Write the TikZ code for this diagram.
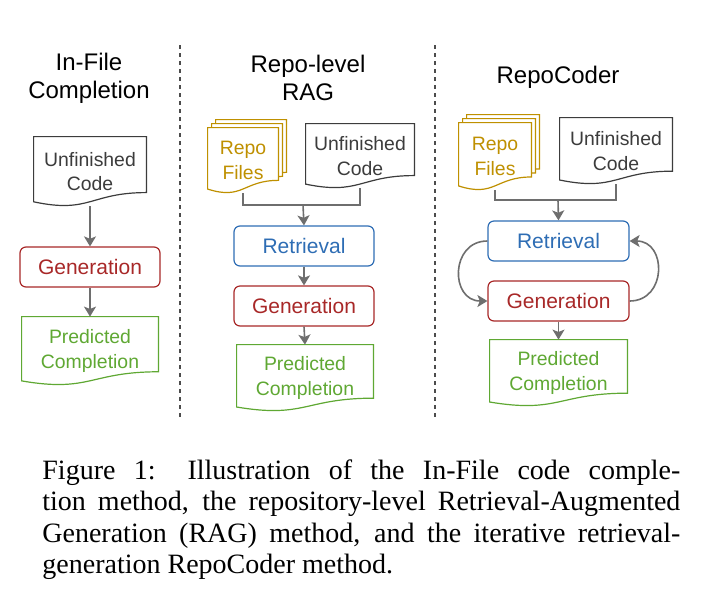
\documentclass[tikz,border=0pt]{standalone}
\usepackage{fontspec}
\setmainfont{Liberation Serif}
\setsansfont{Liberation Sans}
\usetikzlibrary{positioning,arrows.meta,calc,backgrounds}

\definecolor{codegray}{HTML}{3C3C3C}
\definecolor{repogold}{HTML}{BF9000}
\definecolor{retblue}{HTML}{2E6DB4}
\definecolor{genred}{HTML}{A82828}
\definecolor{predgreen}{HTML}{5FA833}
\definecolor{arrgray}{HTML}{6E6E6E}

\tolerance=10000

% page outline with a wavy bottom, drawn round a node
\newcommand{\docframe}[3][0,0]{%
  \draw[draw=#3, fill=white, line width=0.6pt]
    ($(#2.north west)+(#1)$) -- ($(#2.north east)+(#1)$)
    -- ($(#2.north east)!0.802!(#2.south east)+(#1)$)
    .. controls ($(#2.north)!0.802!(#2.south)+(#1)$) and ($(#2.north)!1.1075!(#2.south)+(#1)$)
    .. ($(#2.north west)!0.934!(#2.south west)+(#1)$) -- cycle;}

\begin{document}
\begin{tikzpicture}[
  x=0.5pt, y=-0.5pt,
  font=\sffamily,
  title/.style={font=\sffamily\fontsize{12}{14}\selectfont, align=center, inner sep=0pt},
  doc/.style={text=#1, align=center, inner sep=0pt, font=\sffamily\fontsize{9.7}{12.2}\selectfont},
  proc/.style={rectangle, rounded corners=3pt, draw=#1, text=#1, line width=0.6pt,
               minimum width=70pt, minimum height=20pt, inner sep=0pt,
               font=\sffamily\fontsize{10.5}{12}\selectfont},
  arr/.style={-{Stealth[length=5pt, width=6pt, inset=1.2pt]}, draw=arrgray, line width=0.8pt},
  feed/.style={draw=arrgray, line width=0.8pt},
  sep/.style={draw=black!70, line width=1pt, dash pattern=on 2.2pt off 1.8pt},
  caption/.style={font=\rmfamily\fontsize{14}{15.8}\selectfont, text width=319pt,
                  align=justify, inner sep=0pt}
]
\useasboundingbox (0,0) rectangle (726,600);

% column titles
\node[title] (t1) at (89,78) {In-File\\Completion};
\node[title] (t2) at (308,78) {Repo-level\\RAG};
\node[title] (t3) at (558,77) {RepoCoder};

% separators
\draw[sep] (180,45) -- (180,417);
\draw[sep] (435,45) -- (435,417);

% In-File completion
\node[doc=codegray, minimum width=56pt, minimum height=34.5pt] (uc1) at (90,171.5) {Unfinished\\Code};
\node[proc=genred] (gen1) at (90,267) {Generation};
\node[doc=predgreen, minimum width=68pt, minimum height=34pt] (pred1) at (90,351) {Predicted\\Completion};

% Repo-level RAG
\node[doc=repogold, minimum width=35pt, minimum height=32.5pt] (rf2) at (243,160.5) {Repo\\Files};
\node[doc=codegray, minimum width=54pt, minimum height=32pt] (uc2) at (360,156) {Unfinished\\Code};
\coordinate (j2) at (303,205);
\node[proc=retblue] (ret2) at (304,246) {Retrieval};
\node[proc=genred] (gen2) at (304,306) {Generation};
\node[doc=predgreen, minimum width=68pt, minimum height=33pt] (pred2) at (305,378) {Predicted\\Completion};

% RepoCoder
\node[doc=repogold, minimum width=36pt, minimum height=33.5pt] (rf3) at (495,156.5) {Repo\\Files};
\node[doc=codegray, minimum width=56pt, minimum height=33pt] (uc3) at (616,151) {Unfinished\\Code};
\coordinate (j3) at (558,200);
\node[proc=retblue, minimum width=70.5pt] (ret3) at (558.5,241) {Retrieval};
\node[proc=genred, minimum width=70.5pt] (gen3) at (558.5,301) {Generation};
\node[doc=predgreen, minimum width=68.5pt, minimum height=33pt] (pred3) at (558.5,373) {Predicted\\Completion};

\begin{scope}[on background layer]
  \docframe{uc1}{codegray}
  \docframe{pred1}{predgreen}
  \docframe[8,-8]{rf2}{repogold}
  \docframe[4,-4]{rf2}{repogold}
  \docframe{rf2}{repogold}
  \docframe{uc2}{codegray}
  \docframe{pred2}{predgreen}
  \docframe[8,-8]{rf3}{repogold}
  \docframe[4,-4]{rf3}{repogold}
  \docframe{rf3}{repogold}
  \docframe{uc3}{codegray}
  \docframe{pred3}{predgreen}
\end{scope}

\draw[arr] (uc1.south) -- (gen1.north);
\draw[arr] (gen1.south) -- (pred1.north);

\draw[feed] (rf2.south) |- (j2) -| (uc2.south);
\draw[arr] (j2) -- (ret2.north);
\draw[arr] (ret2.south) -- (gen2.north);
\draw[arr] (gen2.south) -- (pred2.north);

\draw[feed] (rf3.south) |- (j3) -| (uc3.south);
\draw[arr] (j3) -- (ret3.north);
\draw[arr] (ret3.west) to[out=180, in=180, looseness=1.6] (gen3.west);
\draw[arr] (gen3.east) to[out=0, in=0, looseness=1.6] (ret3.east);
\draw[arr] (gen3.south) -- (pred3.north);

% caption
\node[caption, anchor=base west] (cap) at (42,479) {Figure 1: Illustration of the In-File code comple-\linebreak
tion method, the repository-level Retrieval-Augmented\linebreak
Generation (RAG) method, and the iterative retrieval-\linebreak
generation RepoCoder method.};
\end{tikzpicture}
\end{document}
